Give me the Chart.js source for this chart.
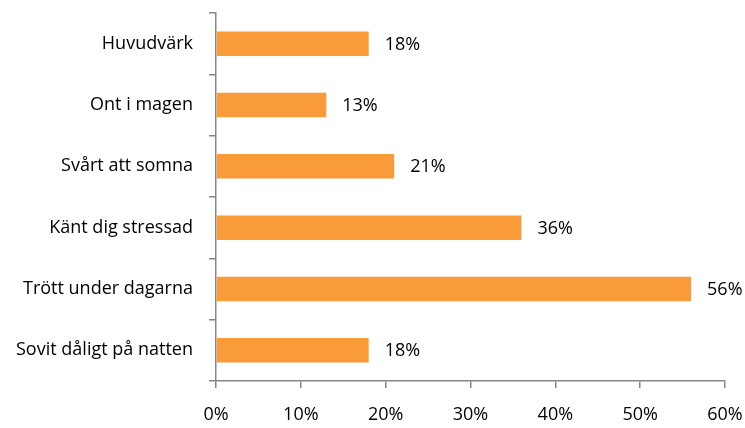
<!DOCTYPE html>
<html>
<head>
<meta charset="utf-8">
<script src="https://cdn.jsdelivr.net/npm/chart.js@4/dist/chart.umd.min.js"></script>
<style>
    body { margin: 0; background: #fff; }
</style>
</head>
<body>
<canvas id="chart" width="745" height="428"></canvas>
<script>
const categories = ['Huvudvärk', 'Ont i magen', 'Svårt att somna', 'Känt dig stressad', 'Trött under dagarna', 'Sovit dåligt på natten'];
const values = [18, 13, 21, 36, 56, 18];
const xTicks = [0, 10, 20, 30, 40, 50, 60];

const axisColor = '#868686';
const fontSpec = { family: '"Open Sans", Lato, sans-serif', size: 18 };

// etiketter till höger om staplarna
const barLabels = {
    id: 'barLabels',
    afterDatasetsDraw(chart) {
        const ctx = chart.ctx;
        const meta = chart.getDatasetMeta(0);
        ctx.save();
        ctx.font = fontSpec.size + 'px ' + fontSpec.family;
        ctx.fillStyle = '#000';
        ctx.textAlign = 'left';
        ctx.textBaseline = 'middle';
        meta.data.forEach((bar, i) => {
            ctx.fillText(values[i] + '%', bar.x + 16, bar.y + 1);
        });
        ctx.restore();
    }
};

function displayChart() {
    const ctx = document.getElementById('chart').getContext('2d');
    new Chart(ctx, {
        type: 'bar',
        data: {
            labels: categories,
            datasets: [{
                data: values,
                backgroundColor: '#F99B38',
                borderWidth: 0,
                barPercentage: 0.4,
                categoryPercentage: 1
            }]
        },
        options: {
            indexAxis: 'y',
            responsive: false,
            animation: false,
            devicePixelRatio: 1,
            layout: { padding: { top: 13, right: 20, left: 0, bottom: 0 } },
            plugins: {
                legend: { display: false },
                tooltip: { enabled: false }
            },
            scales: {
                x: {
                    min: 0,
                    max: 60,
                    afterBuildTicks: (scale) => { scale.ticks = xTicks.map(v => ({ value: v })); },
                    afterFit: (scale) => {
                        scale.height = 47;
                        scale.paddingLeft = 0;
                        scale.paddingRight = 0;
                    },
                    ticks: {
                        color: '#000',
                        font: fontSpec,
                        padding: 16,
                        maxRotation: 0,
                        callback: (v) => v + '%'
                    },
                    grid: {
                        drawOnChartArea: false,
                        drawTicks: true,
                        tickLength: 7,
                        color: axisColor,
                        lineWidth: 1.5
                    },
                    border: { display: true, color: axisColor, width: 1.5 }
                },
                y: {
                    afterFit: (scale) => {
                        scale.width = 216;
                        scale.paddingTop = 0;
                        scale.paddingBottom = 0;
                    },
                    ticks: {
                        color: '#000',
                        font: fontSpec,
                        padding: 16
                    },
                    grid: {
                        offset: true,
                        drawOnChartArea: false,
                        drawTicks: true,
                        tickLength: 7,
                        color: axisColor,
                        lineWidth: 1.5
                    },
                    border: { display: true, color: axisColor, width: 1.5 }
                }
            }
        },
        plugins: [barLabels]
    });
}

displayChart();
</script>
</body>
</html>
